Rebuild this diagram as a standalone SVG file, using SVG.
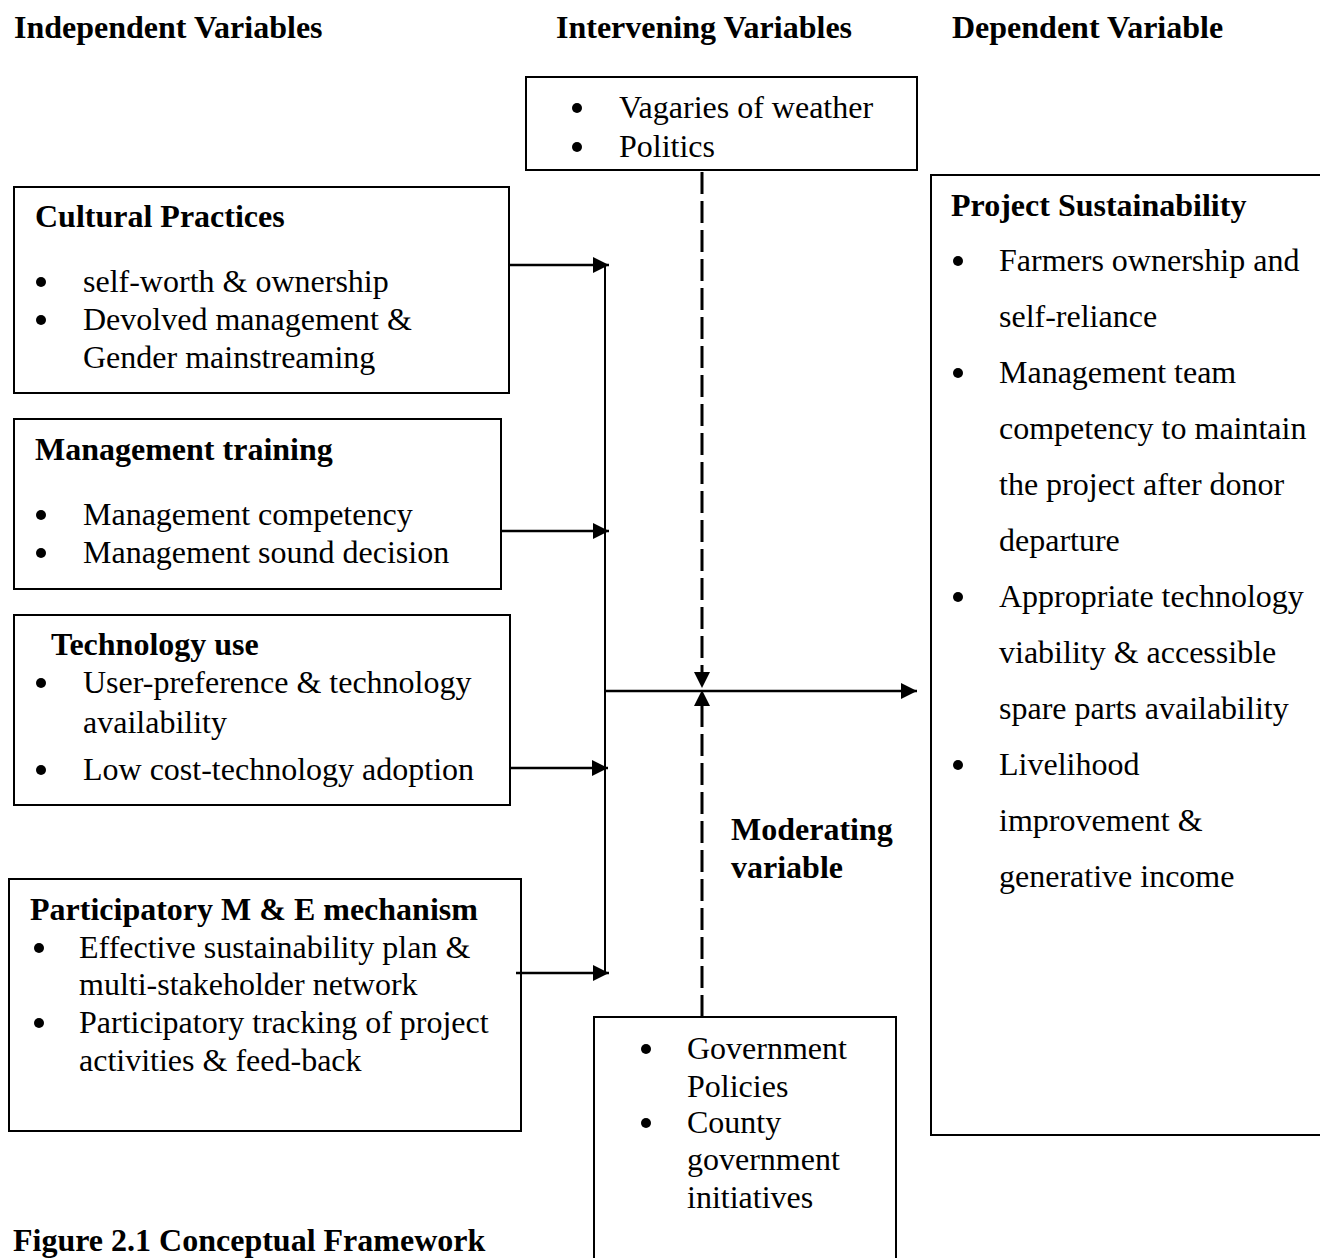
<svg xmlns="http://www.w3.org/2000/svg" width="1320" height="1258" viewBox="0 0 1320 1258">
<style>
text{font-family:"Liberation Serif","Times New Roman",serif;font-size:32px;fill:#000}
.b{font-weight:bold}
.box{fill:#fff;stroke:#000;stroke-width:2}
.ln{stroke:#000;stroke-width:2.5;fill:none}
.vl{stroke:#000;stroke-width:2;fill:none}
.dash{stroke:#000;stroke-width:3;fill:none;stroke-dasharray:22 7}
.dot{fill:#000}
</style>
<defs>
<marker id="ah" markerUnits="userSpaceOnUse" markerWidth="16" markerHeight="16" viewBox="0 0 16 16" refX="16" refY="8" orient="auto">
<path d="M0,0 L16,8 L0,16 Z" fill="#000"/>
</marker>
</defs>
<rect width="1320" height="1258" fill="#fff"/>

<g id="headers">
<text class="b" x="14" y="38">Independent Variables</text>
<text class="b" x="556" y="38">Intervening Variables</text>
<text class="b" x="952" y="38">Dependent Variable</text>
</g>

<g id="intervening">
<rect class="box" x="526" y="77" width="391" height="93"/>
<circle class="dot" cx="577" cy="108" r="5"/>
<text x="619" y="118">Vagaries of weather</text>
<circle class="dot" cx="577" cy="147" r="5"/>
<text x="619" y="157">Politics</text>
</g>

<g id="cultural">
<rect class="box" x="14" y="187" width="495" height="206"/>
<text class="b" x="35" y="227">Cultural Practices</text>
<circle class="dot" cx="41" cy="282" r="5"/>
<text x="83" y="292">self-worth &amp; ownership</text>
<circle class="dot" cx="41" cy="320" r="5"/>
<text x="83" y="330">Devolved management &amp;</text>
<text x="83" y="368">Gender mainstreaming</text>
</g>

<g id="management">
<rect class="box" x="14" y="419" width="487" height="170"/>
<text class="b" x="35" y="460">Management training</text>
<circle class="dot" cx="41" cy="515" r="5"/>
<text x="83" y="525">Management competency</text>
<circle class="dot" cx="41" cy="553" r="5"/>
<text x="83" y="563">Management sound decision</text>
</g>

<g id="technology">
<rect class="box" x="14" y="615" width="496" height="190"/>
<text class="b" x="51" y="655">Technology use</text>
<circle class="dot" cx="41" cy="683" r="5"/>
<text x="83" y="693">User-preference &amp; technology</text>
<text x="83" y="733">availability</text>
<circle class="dot" cx="41" cy="770" r="5"/>
<text x="83" y="780">Low cost-technology adoption</text>
</g>

<g id="me">
<rect class="box" x="9" y="879" width="512" height="252"/>
<text class="b" x="30" y="920">Participatory M &amp; E mechanism</text>
<circle class="dot" cx="39" cy="948" r="5"/>
<text x="79" y="958">Effective sustainability plan &amp;</text>
<text x="79" y="995">multi-stakeholder network</text>
<circle class="dot" cx="39" cy="1023" r="5"/>
<text x="79" y="1033">Participatory tracking of project</text>
<text x="79" y="1071">activities &amp; feed-back</text>
</g>

<g id="moderating">
<rect class="box" x="594" y="1017" width="302" height="300"/>
<circle class="dot" cx="646" cy="1049" r="5"/>
<text x="687" y="1059">Government</text>
<text x="687" y="1097">Policies</text>
<circle class="dot" cx="646" cy="1123" r="5"/>
<text x="687" y="1133">County</text>
<text x="687" y="1170">government</text>
<text x="687" y="1208">initiatives</text>
</g>

<g id="moderating-label">
<text class="b" x="731" y="840">Moderating</text>
<text class="b" x="731" y="878">variable</text>
</g>

<g id="dependent">
<rect class="box" x="931" y="175" width="420" height="960"/>
<text class="b" x="951" y="216">Project Sustainability</text>
<circle class="dot" cx="958" cy="261" r="5"/>
<text x="999" y="271">Farmers ownership and</text>
<text x="999" y="327">self-reliance</text>
<circle class="dot" cx="958" cy="373" r="5"/>
<text x="999" y="383">Management team</text>
<text x="999" y="439">competency to maintain</text>
<text x="999" y="495">the project after donor</text>
<text x="999" y="551">departure</text>
<circle class="dot" cx="958" cy="597" r="5"/>
<text x="999" y="607">Appropriate technology</text>
<text x="999" y="663">viability &amp; accessible</text>
<text x="999" y="719">spare parts availability</text>
<circle class="dot" cx="958" cy="765" r="5"/>
<text x="999" y="775">Livelihood</text>
<text x="999" y="831">improvement &amp;</text>
<text x="999" y="887">generative income</text>
</g>

<g id="caption">
<text class="b" x="13" y="1251">Figure 2.1 Conceptual Framework</text>
</g>

<g id="connectors">
<line class="ln" x1="509" y1="265" x2="609" y2="265" marker-end="url(#ah)"/>
<line class="ln" x1="501" y1="531" x2="609" y2="531" marker-end="url(#ah)"/>
<line class="ln" x1="510" y1="768" x2="608" y2="768" marker-end="url(#ah)"/>
<line class="ln" x1="516" y1="973" x2="609" y2="973" marker-end="url(#ah)"/>
<line class="vl" x1="605" y1="265" x2="605" y2="973"/>
<line class="ln" x1="605" y1="691" x2="917" y2="691" marker-end="url(#ah)"/>
<line class="dash" x1="702" y1="172" x2="702" y2="674"/>
<path d="M694,672 L710,672 L702,688 Z" fill="#000"/>
<line class="dash" x1="702" y1="1017" x2="702" y2="706"/>
<path d="M694,706 L710,706 L702,690 Z" fill="#000"/>
</g>
</svg>
